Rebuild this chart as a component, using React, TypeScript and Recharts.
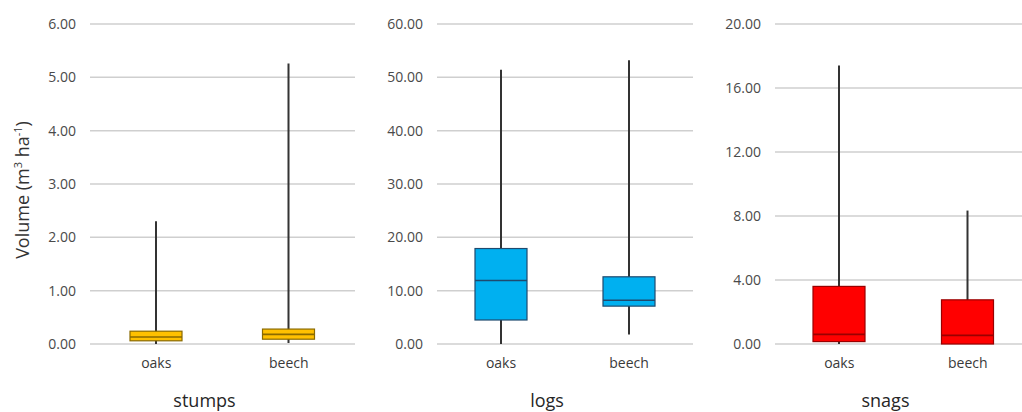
import { Bar, CartesianGrid, ComposedChart, XAxis, YAxis } from "recharts"

// species on the category axis
const categories = ["oaks", "beech"]

// stumps volume summary (m3 ha-1)
const stumpsMin = [0.0, 0.02]
const stumpsQ1 = [0.06, 0.09]
const stumpsMedian = [0.13, 0.18]
const stumpsQ3 = [0.24, 0.28]
const stumpsMax = [2.3, 5.26]
const stumpsTicks = [0, 1, 2, 3, 4, 5, 6]

// logs volume summary
const logsMin = [0.0, 1.8]
const logsQ1 = [4.5, 7.1]
const logsMedian = [11.9, 8.2]
const logsQ3 = [17.9, 12.6]
const logsMax = [51.4, 53.2]
const logsTicks = [0, 10, 20, 30, 40, 50, 60]

// snags volume summary
const snagsMin = [0.0, 0.0]
const snagsQ1 = [0.15, 0.0]
const snagsMedian = [0.6, 0.54]
const snagsQ3 = [3.6, 2.76]
const snagsMax = [17.4, 8.34]
const snagsTicks = [0, 4, 8, 12, 16, 20]

const buildRows = (min: number[], q1: number[], med: number[], q3: number[], max: number[]) =>
  categories.map((name, i) => ({ name, min: min[i], q1: q1[i], median: med[i], q3: q3[i], max: max[i] }))

const panels = [
  {
    title: "stumps",
    rows: buildRows(stumpsMin, stumpsQ1, stumpsMedian, stumpsQ3, stumpsMax),
    ticks: stumpsTicks,
    fill: "#FFC000",
    edge: "#8a6a00",
    left: 0,
    width: 360,
  },
  {
    title: "logs",
    rows: buildRows(logsMin, logsQ1, logsMedian, logsQ3, logsMax),
    ticks: logsTicks,
    fill: "#00B0F0",
    edge: "#1f4a6e",
    left: 347,
    width: 351,
  },
  {
    title: "snags",
    rows: buildRows(snagsMin, snagsQ1, snagsMedian, snagsQ3, snagsMax),
    ticks: snagsTicks,
    fill: "#FF0000",
    edge: "#9a0000",
    left: 685,
    width: 352,
  },
]

function makeBoxShape(fill: string, edge: string) {
  return (props: any) => {
    const { x, y, width, height, payload } = props
    const { min, q1, median, q3, max } = payload
    const top = Math.min(y, y + height)
    const h = Math.abs(height)
    const perUnit = max - min === 0 ? 0 : h / (max - min)
    const yOf = (v: number) => top + h - (v - min) * perUnit
    const cx = x + width / 2
    return (
      <g>
        <line x1={cx} x2={cx} y1={yOf(max)} y2={yOf(min)} stroke="#333" strokeWidth={2} />
        <rect
          x={x}
          y={yOf(q3)}
          width={width}
          height={Math.max(yOf(q1) - yOf(q3), 0)}
          fill={fill}
          stroke={edge}
          strokeWidth={1.2}
        />
        <line x1={x} x2={x + width} y1={yOf(median)} y2={yOf(median)} stroke={edge} strokeWidth={1.6} />
      </g>
    )
  }
}

export default function App() {
  return (
    <div
      style={{
        position: "absolute",
        left: 0,
        top: 0,
        width: 1022,
        height: 412,
        overflow: "hidden",
        background: "#fff",
        fontFamily: "'Open Sans', sans-serif",
      }}
    >
      {panels.map((p) => {
        const top = p.ticks[p.ticks.length - 1]
        return (
          <div key={p.title} style={{ position: "absolute", left: p.left, top: 0 }}>
            <ComposedChart
              width={p.width}
              height={412}
              data={p.rows}
              margin={{ top: 24, right: 5, left: 0, bottom: 0 }}
            >
              <CartesianGrid horizontal vertical={false} stroke="#cfcfcf" strokeWidth={1.5} />
              <XAxis
                dataKey="name"
                height={68}
                axisLine={false}
                tickLine={false}
                tickMargin={8}
                tick={{ fill: "#3a3a3a", fontSize: 14 }}
                label={{ value: p.title, position: "insideBottom", offset: 5, dx: -18, fill: "#262626", fontSize: 18 }}
              />
              <YAxis
                width={90}
                domain={[0, top]}
                ticks={p.ticks}
                interval={0}
                axisLine={false}
                tickLine={false}
                tickMargin={8}
                tick={{ fill: "#4a4a4a", fontSize: 14 }}
                tickFormatter={(v: number) => v.toFixed(2)}
              />
              <Bar
                dataKey={(d: any) => [d.min, d.max]}
                barSize={52}
                shape={makeBoxShape(p.fill, p.edge)}
                isAnimationActive={false}
              />
            </ComposedChart>
          </div>
        )
      })}
      <div
        style={{
          position: "absolute",
          left: 22,
          top: 190,
          transform: "translate(-50%, -50%) rotate(-90deg)",
          whiteSpace: "nowrap",
          fontSize: 18,
          color: "#333",
        }}
      >
        Volume (m<sup style={{ fontSize: 11 }}>3</sup> ha<sup style={{ fontSize: 11 }}>-1</sup>)
      </div>
    </div>
  )
}
